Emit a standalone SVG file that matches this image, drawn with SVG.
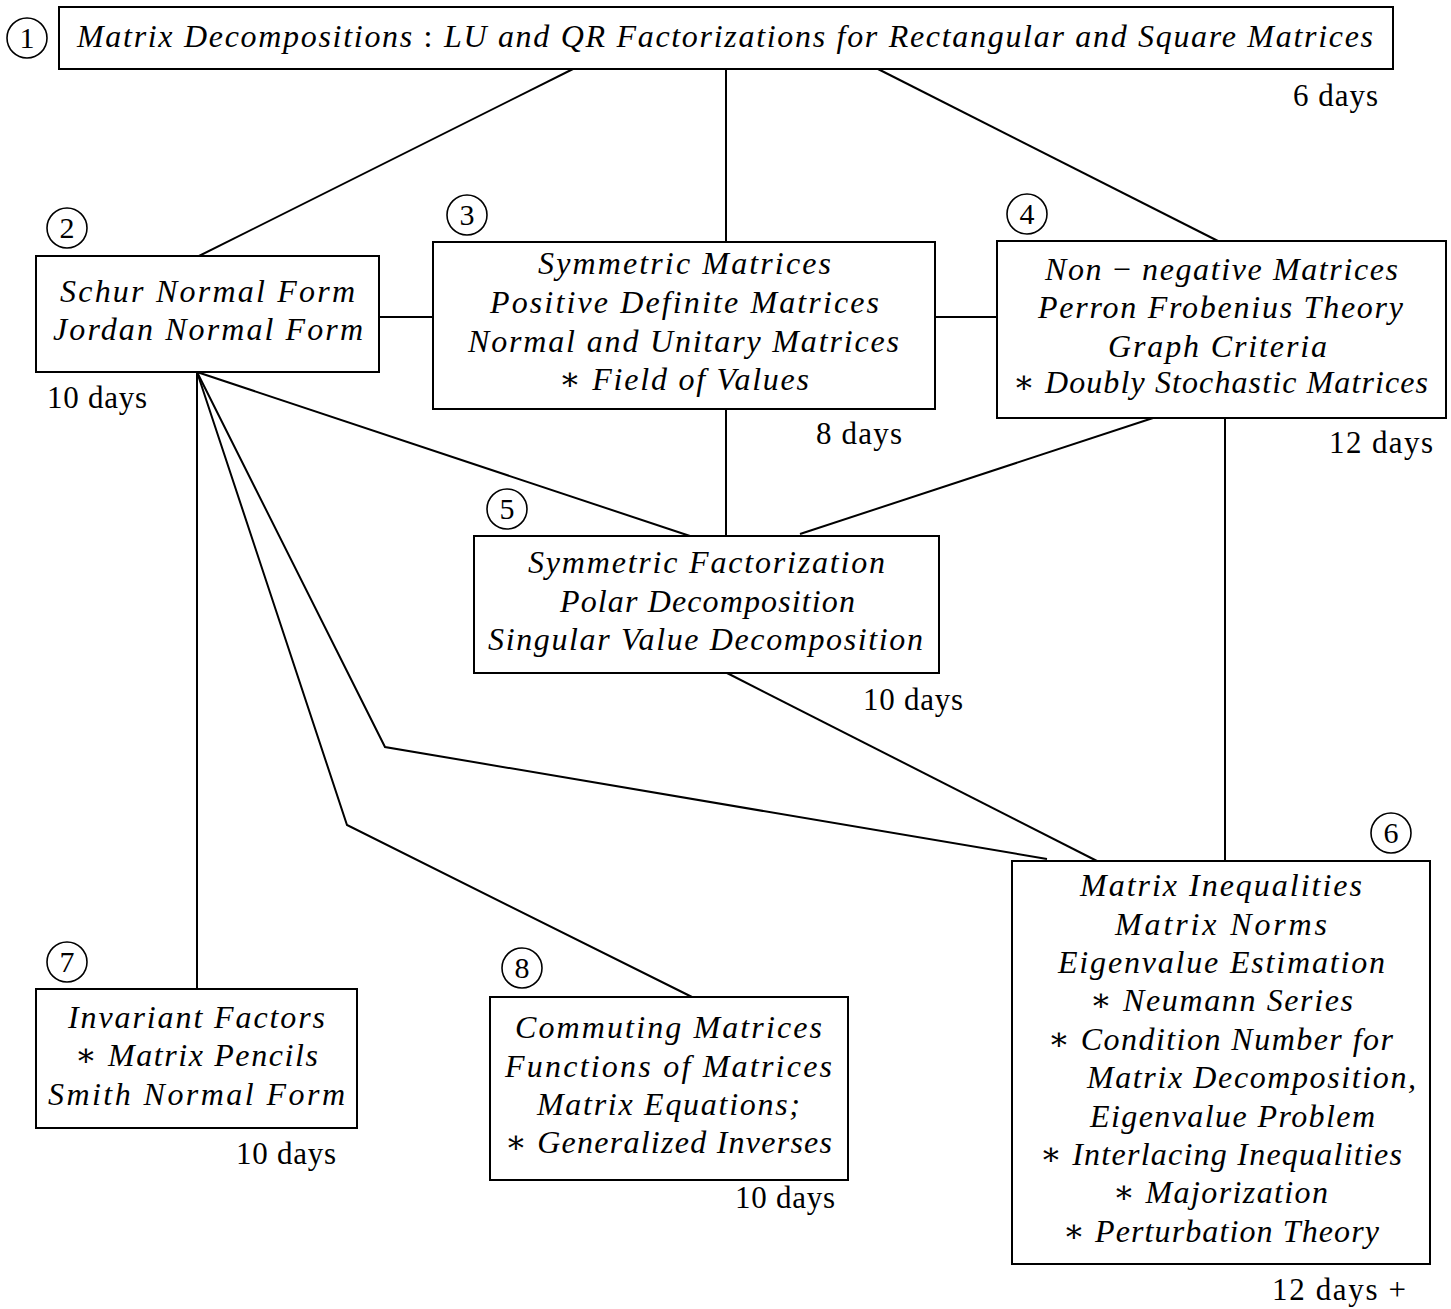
<svg xmlns="http://www.w3.org/2000/svg" width="1451" height="1309" viewBox="0 0 1451 1309">
<style>
.box{fill:#fff;stroke:#000;stroke-width:2}
.num{fill:none;stroke:#000;stroke-width:1.6}
.numt{font-family:"Liberation Serif","DejaVu Serif",serif;font-size:30px;text-anchor:middle}
.t{font-family:"Liberation Serif","DejaVu Serif",serif;font-style:italic;font-size:32px}
.u{font-style:normal}
.d{font-family:"Liberation Serif","DejaVu Serif",serif;font-size:31px}
#connectors line,#connectors polyline{stroke:#000;stroke-width:2;fill:none}
</style>
<rect width="1451" height="1309" fill="#fff"/>
<g id="connectors">
<line x1="573" y1="69" x2="199" y2="256"/>
<line x1="726" y1="69" x2="726" y2="242"/>
<line x1="878" y1="69" x2="1218" y2="241"/>
<line x1="379" y1="317" x2="433" y2="317"/>
<line x1="935" y1="317" x2="997" y2="317"/>
<line x1="197" y1="372" x2="690" y2="536"/>
<line x1="726" y1="409" x2="726" y2="536"/>
<line x1="1153" y1="418" x2="800" y2="534"/>
<line x1="1225" y1="418" x2="1225" y2="861"/>
<line x1="197" y1="372" x2="197" y2="989"/>
<polyline points="197,372 385,747 1047,859"/>
<polyline points="197,372 347,825 692,997"/>
<line x1="727" y1="673" x2="1097" y2="861"/>
</g>
<g id="n1">
<circle class="num" cx="27" cy="38" r="20"/>
<text class="numt" x="27" y="48">1</text>
<rect class="box" x="59" y="7" width="1334" height="62"/>
<text class="t" x="77" y="47" textLength="1296">Matrix Decompositions <tspan class="u">:</tspan> LU and QR Factorizations for Rectangular and Square Matrices</text>
<text class="d" x="1293" y="106" textLength="85">6 days</text>
</g>
<g id="n2">
<circle class="num" cx="67" cy="228" r="20"/>
<text class="numt" x="67" y="238">2</text>
<rect class="box" x="36" y="256" width="343" height="116"/>
<text class="t" x="60" y="302" textLength="295">Schur Normal Form</text>
<text class="t" x="53" y="340" textLength="310">Jordan Normal Form</text>
<text class="d" x="47" y="408" textLength="100">10 days</text>
</g>
<g id="n3">
<circle class="num" cx="467" cy="215" r="20"/>
<text class="numt" x="467" y="225">3</text>
<rect class="box" x="433" y="242" width="502" height="167"/>
<text class="t" x="538" y="274" textLength="293">Symmetric Matrices</text>
<text class="t" x="490" y="313" textLength="389">Positive Definite Matrices</text>
<text class="t" x="468" y="352" textLength="431">Normal and Unitary Matrices</text>
<text class="t" x="559" y="390" textLength="250"><tspan class="u">∗</tspan> Field of Values</text>
<text class="d" x="816" y="444" textLength="86">8 days</text>
</g>
<g id="n4">
<circle class="num" cx="1027" cy="214" r="20"/>
<text class="numt" x="1027" y="224">4</text>
<rect class="box" x="997" y="241" width="449" height="177"/>
<text class="t" x="1045" y="280" textLength="353">Non <tspan class="u">−</tspan> negative Matrices</text>
<text class="t" x="1038" y="318" textLength="365">Perron Frobenius Theory</text>
<text class="t" x="1108" y="357" textLength="219">Graph Criteria</text>
<text class="t" x="1013" y="393" textLength="415"><tspan class="u">∗</tspan> Doubly Stochastic Matrices</text>
<text class="d" x="1329" y="453" textLength="104">12 days</text>
</g>
<g id="n5">
<circle class="num" cx="507" cy="509" r="20"/>
<text class="numt" x="507" y="519">5</text>
<rect class="box" x="474" y="536" width="465" height="137"/>
<text class="t" x="528" y="573" textLength="357">Symmetric Factorization</text>
<text class="t" x="560" y="612" textLength="295">Polar Decomposition</text>
<text class="t" x="488" y="650" textLength="435">Singular Value Decomposition</text>
<text class="d" x="863" y="710" textLength="100">10 days</text>
</g>
<g id="n6">
<circle class="num" cx="1391" cy="833" r="20"/>
<text class="numt" x="1391" y="843">6</text>
<rect class="box" x="1012" y="861" width="418" height="403"/>
<text class="t" x="1080" y="896" textLength="282">Matrix Inequalities</text>
<text class="t" x="1115" y="935" textLength="212">Matrix Norms</text>
<text class="t" x="1058" y="973" textLength="327">Eigenvalue Estimation</text>
<text class="t" x="1090" y="1011" textLength="263"><tspan class="u">∗</tspan> Neumann Series</text>
<text class="t" x="1048" y="1050" textLength="345"><tspan class="u">∗</tspan> Condition Number for</text>
<text class="t" x="1087" y="1088" textLength="329">Matrix Decomposition,</text>
<text class="t" x="1090" y="1127" textLength="285">Eigenvalue Problem</text>
<text class="t" x="1040" y="1165" textLength="362"><tspan class="u">∗</tspan> Interlacing Inequalities</text>
<text class="t" x="1113" y="1203" textLength="215"><tspan class="u">∗</tspan> Majorization</text>
<text class="t" x="1063" y="1242" textLength="316"><tspan class="u">∗</tspan> Perturbation Theory</text>
<text class="d" x="1272" y="1300" textLength="134">12 days +</text>
</g>
<g id="n7">
<circle class="num" cx="67" cy="962" r="20"/>
<text class="numt" x="67" y="972">7</text>
<rect class="box" x="36" y="989" width="321" height="139"/>
<text class="t" x="68" y="1028" textLength="257">Invariant Factors</text>
<text class="t" x="75" y="1066" textLength="243"><tspan class="u">∗</tspan> Matrix Pencils</text>
<text class="t" x="48" y="1105" textLength="297">Smith Normal Form</text>
<text class="d" x="236" y="1164" textLength="100">10 days</text>
</g>
<g id="n8">
<circle class="num" cx="522" cy="968" r="20"/>
<text class="numt" x="522" y="978">8</text>
<rect class="box" x="490" y="997" width="358" height="183"/>
<text class="t" x="515" y="1038" textLength="307">Commuting Matrices</text>
<text class="t" x="505" y="1077" textLength="327">Functions of Matrices</text>
<text class="t" x="537" y="1115" textLength="263">Matrix Equations;</text>
<text class="t" x="505" y="1153" textLength="327"><tspan class="u">∗</tspan> Generalized Inverses</text>
<text class="d" x="735" y="1208" textLength="100">10 days</text>
</g>
</svg>
